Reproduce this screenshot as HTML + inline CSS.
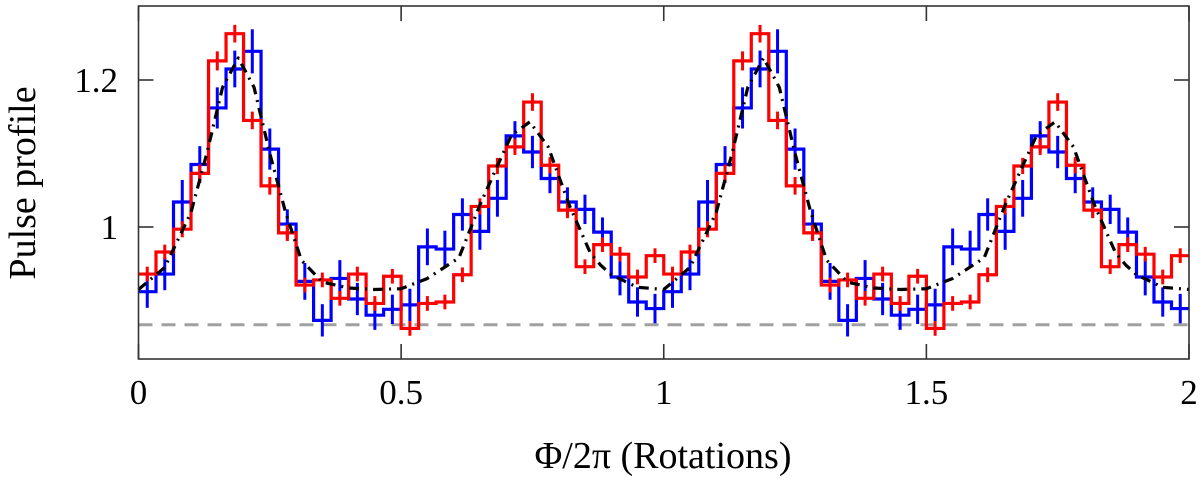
<!DOCTYPE html>
<html><head><meta charset="utf-8"><style>
html,body{margin:0;padding:0;background:#fff;}
svg{display:block;}
text{font-family:"Liberation Serif",serif;fill:#000;}
</style></head><body>
<svg id="chart" width="1200" height="482" viewBox="0 0 1200 482" xmlns="http://www.w3.org/2000/svg">
<g id="plot"></g>
<g id="axes"></g>
<text x="663" y="468" font-size="38" text-anchor="middle">Φ/2π (Rotations)</text>
<text transform="translate(35,183) rotate(-90)" font-size="38" text-anchor="middle">Pulse profile</text>
</svg>
<script>
const nBins = 30;
const redValues = [0.936,0.966,0.997,1.073,1.226,1.263,1.145,1.056,0.992,0.921,0.928,0.903,0.936,0.896,0.933,0.862,0.896,0.898,0.935,1.028,1.083,1.109,1.170,1.084,1.023,0.946,0.976,0.963,0.932,0.961];
const redErrors = [0.010,0.010,0.011,0.012,0.013,0.012,0.012,0.012,0.011,0.010,0.010,0.010,0.010,0.010,0.010,0.010,0.010,0.010,0.010,0.011,0.011,0.011,0.012,0.011,0.011,0.010,0.010,0.010,0.010,0.010];
const blueValues = [0.912,0.936,1.034,1.085,1.162,1.215,1.239,1.106,1.004,0.926,0.873,0.930,0.902,0.880,0.888,0.894,0.973,0.970,1.017,0.994,1.039,1.124,1.102,1.066,1.034,1.024,0.993,0.932,0.898,0.889];
const blueErrors = [0.022,0.022,0.030,0.025,0.028,0.025,0.030,0.028,0.020,0.025,0.022,0.025,0.022,0.020,0.020,0.022,0.025,0.025,0.022,0.025,0.025,0.020,0.022,0.020,0.020,0.020,0.020,0.025,0.020,0.020];
const modelPhase = [0,0.05,0.10,0.13,0.16,0.19,0.22,0.25,0.28,0.31,0.35,0.40,0.45,0.50,0.55,0.61,0.65,0.68,0.71,0.745,0.78,0.82,0.86,0.88,0.90,0.95,1.0];
const modelValues = [0.915,0.945,1.02,1.10,1.19,1.23,1.19,1.10,1.02,0.955,0.925,0.917,0.915,0.916,0.93,0.958,1.03,1.078,1.125,1.143,1.109,1.03,0.965,0.948,0.935,0.918,0.915];
const baseline = 0.867;
const xTicks = [0,0.5,1,1.5,2];
const xTickLabels = ["0","0.5","1","1.5","2"];
const yTicks = [1,1.2];
const yTickLabels = ["1","1.2"];
const rotations = 2;

const L=138.5,R=1189,T=6,B=359;
const xs = v => L + v*(R-L)/2;
const ys = v => 227 - (v-1)*735;
const NS="http://www.w3.org/2000/svg";
const plot=document.getElementById('plot'), axes=document.getElementById('axes');
function mk(tag, attrs, parent){const e=document.createElementNS(NS,tag);for(const k in attrs)e.setAttribute(k,attrs[k]);parent.appendChild(e);return e;}

const bl = mk('line',{x1:L,x2:R,y1:ys(baseline),y2:ys(baseline),stroke:'#a0a0a0','stroke-width':3,'stroke-dasharray':'14,9'},plot);



function drawSeries(vals, errs, color, name){
  let d='';
  for(let r=0;r<rotations;r++){
    for(let i=0;i<nBins;i++){
      const x0=xs(r+i/nBins), x1=xs(r+(i+1)/nBins), y=ys(vals[i]);
      d += (d===''?'M':'L')+x0+','+y+' L'+x1+','+y+' ';
    }
  }
  const p=mk('path',{d:d,fill:'none',stroke:color,'stroke-width':3.2},plot);
  
  
  for(let r=0;r<rotations;r++){
    for(let i=0;i<nBins;i++){
      const xc=xs(r+(i+0.5)/nBins);
      const e=mk('line',{x1:xc,x2:xc,y1:ys(vals[i]+errs[i]),y2:ys(vals[i]-errs[i]),stroke:color,'stroke-width':3},plot);
      
      
    }
  }
}
drawSeries(blueValues, blueErrors, '#0000ff', 'blue');
drawSeries(redValues, redErrors, '#ff0000', 'red');

let md='';
for(let r=0;r<rotations;r++){
  for(let i=0;i<modelPhase.length;i++){
    md += (md===''?'M':'L')+xs(r+modelPhase[i])+','+ys(modelValues[i])+' ';
  }
}
const m=mk('path',{d:md,fill:'none',stroke:'#000','stroke-width':3.2,'stroke-dasharray':'10,6,2,6','stroke-linejoin':'round'},plot);



const fr=mk('rect',{x:L,y:T,width:R-L,height:B-T,fill:'none',stroke:'#333','stroke-width':1.6},axes);



xTicks.forEach((v,i)=>{
  const x=xs(v);
  mk('line',{x1:x,x2:x,y1:B,y2:B-15,stroke:'#333','stroke-width':1.6},axes);
  mk('line',{x1:x,x2:x,y1:T,y2:T+15,stroke:'#333','stroke-width':1.6},axes);
  const t=mk('text',{x:x,y:404,'font-size':35,'text-anchor':'middle'},axes);
  t.textContent=xTickLabels[i];
  
  
});
yTicks.forEach((v,i)=>{
  const y=ys(v);
  mk('line',{x1:L,x2:L+15,y1:y,y2:y,stroke:'#333','stroke-width':1.6},axes);
  mk('line',{x1:R,x2:R-15,y1:y,y2:y,stroke:'#333','stroke-width':1.6},axes);
  const t=mk('text',{x:118,y:y+12,'font-size':35,'text-anchor':'end'},axes);
  t.textContent=yTickLabels[i];
  
  
});
</script>
</body></html>
